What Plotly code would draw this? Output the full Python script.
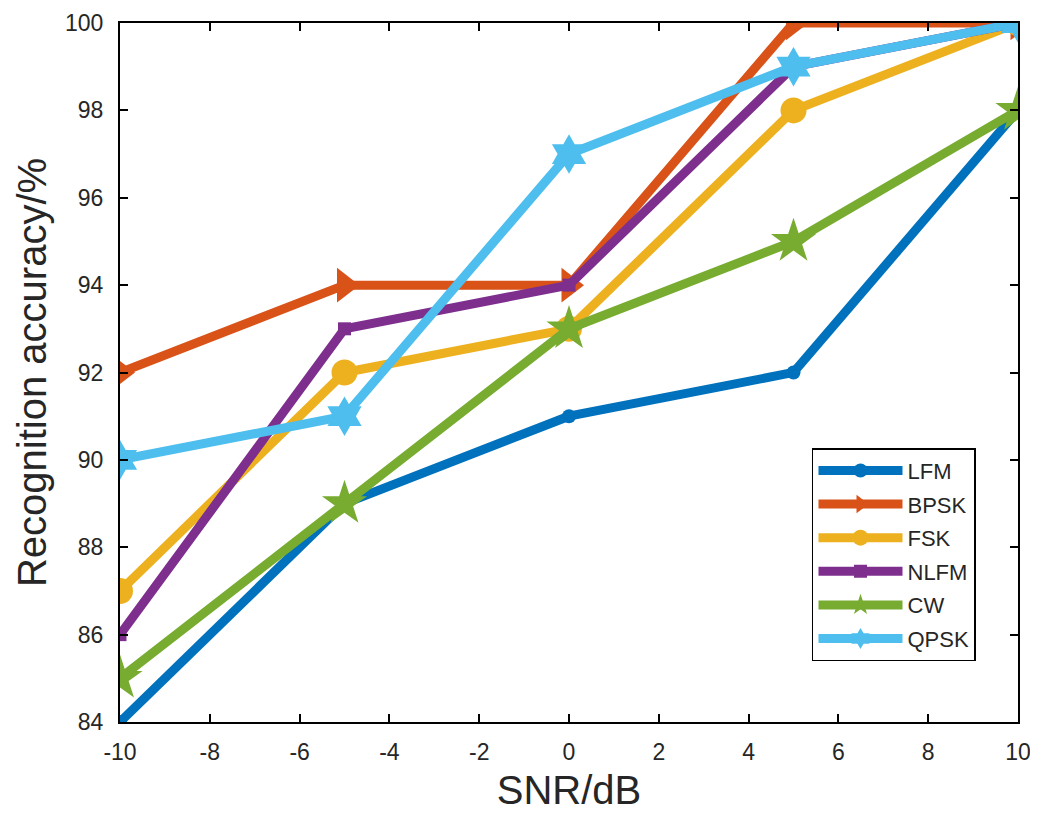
import plotly.graph_objects as go

snr = [-10, -5, 0, 5, 10]
names = ["LFM", "BPSK", "FSK", "NLFM", "CW", "QPSK"]
lfm = [84, 89, 91, 92, 98]
bpsk = [92, 94, 94, 100, 100]
fsk = [87, 92, 93, 98, 100]
nlfm = [86, 93, 94, 99, 100]
cw = [85, 89, 93, 95, 98]
qpsk = [90, 91, 97, 99, 100]
series = [lfm, bpsk, fsk, nlfm, cw, qpsk]
x_ticks = list(range(-10, 11, 2))
x_ticktext = [str(v) for v in x_ticks]
y_ticks = list(range(84, 101, 2))
colors = ["#0072BD", "#D95319", "#EDB120", "#7E2F8E", "#77AC30", "#4DBEEE"]
symbols = ["circle", "triangle-right", "circle", "square", "star", "hexagram"]
sizes = [14, 30, 26, 13, 34, 30]

FONT = "Arial, Liberation Sans, Helvetica, sans-serif"
fig = go.Figure()
for n, s, c, sym, sz in zip(names, series, colors, symbols, sizes):
    fig.add_trace(go.Scatter(x=snr, y=s, name=n, mode="lines+markers", legendgroup=n,
                             line=dict(color=c, width=9),
                             marker=dict(symbol=sym, size=sz, color=c, line=dict(width=0)),
                             cliponaxis=True))

axis_common = dict(showline=True, linecolor="black", linewidth=2, mirror="ticks",
                   ticks="inside", ticklen=8, tickwidth=2, tickcolor="black",
                   showgrid=False, zeroline=False, automargin=False,
                   ticklabeloverflow="allow",
                   tickfont=dict(family=FONT, size=23, color="#262626"))
fig.update_xaxes(range=[-10, 10], tickvals=x_ticks, ticktext=x_ticktext, ticklabelstandoff=8,
                 title=dict(text="SNR/dB", font=dict(family=FONT, size=40, color="#262626"), standoff=12),
                 **axis_common)
fig.update_yaxes(range=[84, 100], tickvals=y_ticks, ticklabelstandoff=10,
                 title=dict(text="Recognition accuracy/%", font=dict(family=FONT, size=40, color="#262626"), standoff=6),
                 **axis_common)
# page body has an 8px default margin, so the figure is offset by 8px
fig.update_layout(width=1030, height=813, plot_bgcolor="white", paper_bgcolor="white",
                  margin=dict(l=112, r=20, t=15, b=99),
                  legend=dict(x=0.7706, y=0.3917, xanchor="left", yanchor="top",
                              bordercolor="black", borderwidth=1.5, bgcolor="white",
                              font=dict(family=FONT, size=22, color="#262626"),
                              itemwidth=84,
                              tracegroupgap=2, traceorder="grouped"))
fig.write_html("out.html")
